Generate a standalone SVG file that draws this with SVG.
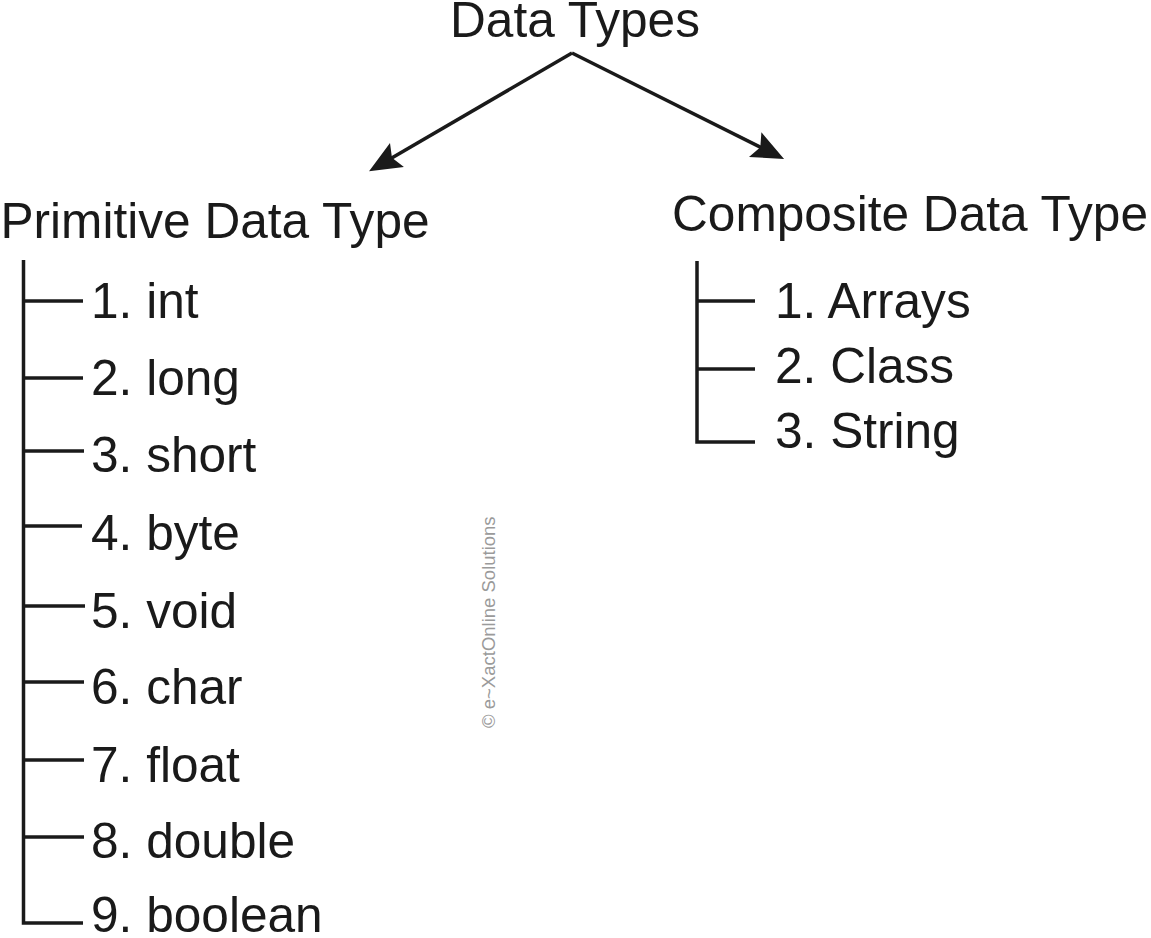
<svg xmlns="http://www.w3.org/2000/svg" width="1151" height="938" viewBox="0 0 1151 938">
<style>
  .t{font-family:"Liberation Sans",Arial,sans-serif;font-size:49.6px;fill:#1a1a1a}
  .ln{stroke:#1a1a1a;stroke-width:3.5;fill:none}
  .wm{font-family:"Liberation Sans",Arial,sans-serif;font-size:18.5px;fill:#9a9a9a}
</style>
<defs>
  <marker id="ah" markerUnits="userSpaceOnUse" markerWidth="40" markerHeight="30" viewBox="-14 -13 32 26" refX="0" refY="0" orient="auto">
    <path d="M15,0 L-13,-12 L-8,0 L-13,12 Z" fill="#1a1a1a"/>
  </marker>
</defs>
<rect width="1151" height="938" fill="#ffffff"/>
<g id="root"><text class="t" x="450" y="37">Data Types</text></g>
<g id="primitive"><text class="t" x="0.5" y="238">Primitive Data Type</text></g>
<g id="composite"><text class="t" x="672" y="231">Composite Data Type</text></g>
<g id="p1"><text class="t" x="91" y="318">1. int</text></g>
<g id="p2"><text class="t" x="91" y="395">2. long</text></g>
<g id="p3"><text class="t" x="91" y="472">3. short</text></g>
<g id="p4"><text class="t" x="91" y="550">4. byte</text></g>
<g id="p5"><text class="t" x="91" y="628">5. void</text></g>
<g id="p6"><text class="t" x="91" y="704">6. char</text></g>
<g id="p7"><text class="t" x="91" y="782">7. float</text></g>
<g id="p8"><text class="t" x="91" y="858">8. double</text></g>
<g id="p9"><text class="t" x="91" y="932">9. boolean</text></g>
<g id="c1"><text class="t" x="775" y="318">1. Arrays</text></g>
<g id="c2"><text class="t" x="775" y="383">2. Class</text></g>
<g id="c3"><text class="t" x="775" y="448">3. String</text></g>
<g id="watermark"><text class="wm" transform="translate(495,728) rotate(-90)">© e~XactOnline Solutions</text></g>
<g id="connectors">
  <line class="ln" x1="572" y1="53" x2="384" y2="162.5" marker-end="url(#ah)"/>
  <line class="ln" x1="572" y1="53" x2="768.6" y2="151.3" marker-end="url(#ah)"/>
  <polyline class="ln" points="23.5,260 23.5,923 83,923"/>
  <line class="ln" x1="23.5" y1="301" x2="83" y2="301"/>
  <line class="ln" x1="23.5" y1="378" x2="83" y2="378"/>
  <line class="ln" x1="23.5" y1="451" x2="84" y2="451"/>
  <line class="ln" x1="23.5" y1="526" x2="82" y2="526"/>
  <line class="ln" x1="23.5" y1="606" x2="85" y2="606"/>
  <line class="ln" x1="23.5" y1="682" x2="84" y2="682"/>
  <line class="ln" x1="23.5" y1="760" x2="84" y2="760"/>
  <line class="ln" x1="23.5" y1="837" x2="84" y2="837"/>
  <polyline class="ln" points="697,261 697,442 755,442"/>
  <line class="ln" x1="697" y1="301" x2="755" y2="301"/>
  <line class="ln" x1="697" y1="369" x2="755" y2="369"/>
</g>
</svg>
